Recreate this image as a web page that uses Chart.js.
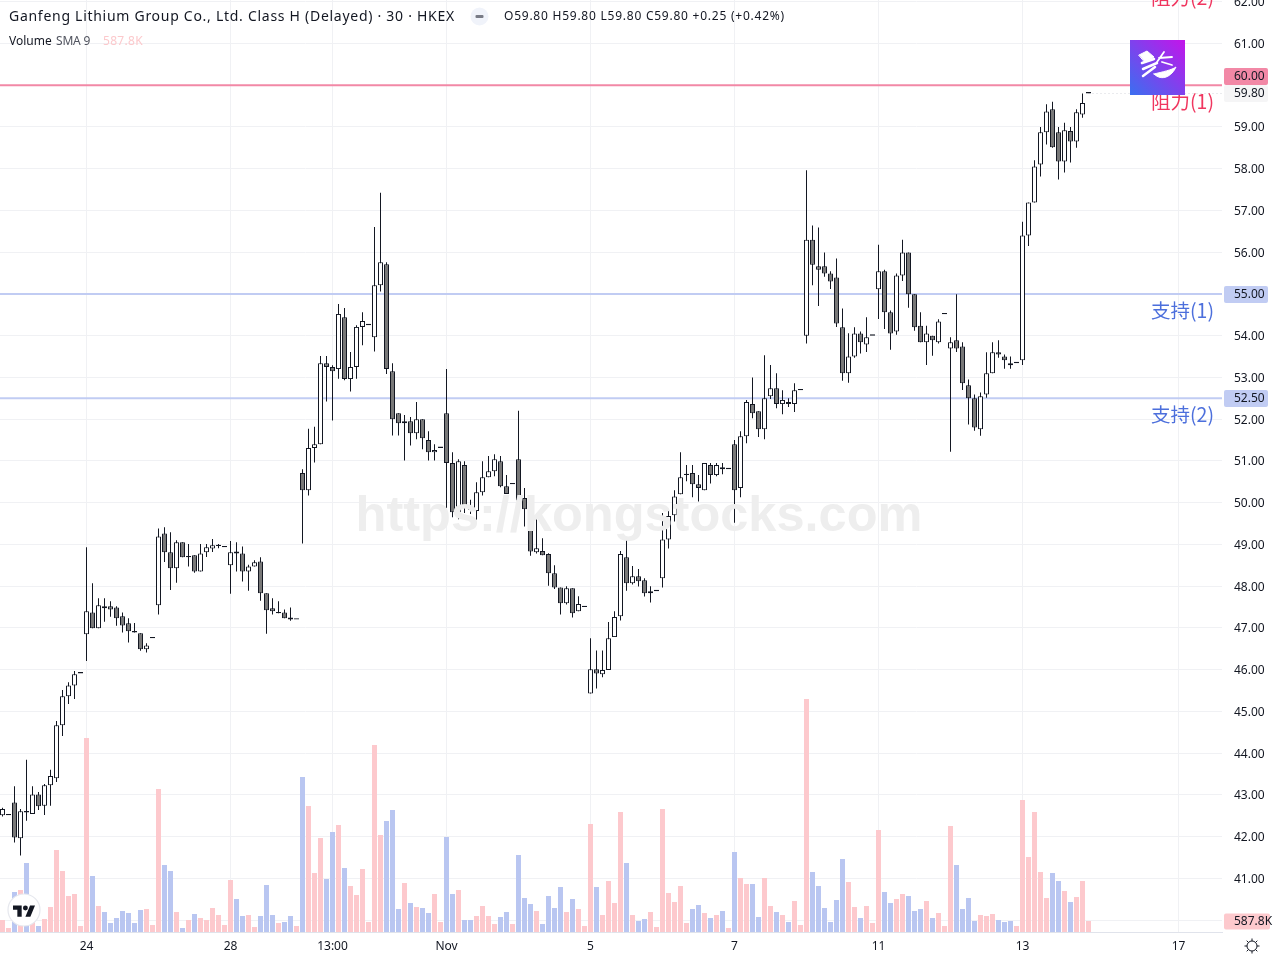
<!DOCTYPE html>
<html>
<head>
<meta charset="utf-8">
<title>Ganfeng Lithium</title>
<script src="https://cdn.jsdelivr.net/npm/chart.js@4"></script>
<style>
    body { margin: 0; background: #fff; overflow: hidden; }
    #wrap { position: relative; width: 1280px; height: 960px; font-family: "Noto Sans", sans-serif; color: #131722; }
    #wrap div, #wrap svg { position: absolute; white-space: nowrap; }
    #title { left: 9px; top: 6px; font-size: 14px; line-height: 20px; letter-spacing: 0.72px; }
    #ohlc { left: 504px; top: 7px; font-size: 12px; line-height: 18px; letter-spacing: 0.76px; }
    #vol { left: 9px; top: 32px; font-size: 12px; line-height: 18px; }
    #volSma { left: 56px; top: 32px; font-size: 12px; line-height: 18px; color: #50535e; letter-spacing: -0.2px; }
    #volVal { left: 103px; top: 32px; font-size: 12px; line-height: 18px; color: #fcc9cc; letter-spacing: 0.3px; }
    #mark { left: 0; width: 1278px; text-align: center; top: 484px; font: bold 50.5px/60px "Liberation Sans"; color: #eeeeee; }
    #badge { left: 1130px; top: 40px; width: 55px; height: 55px; background: linear-gradient(45deg, #3a6ff0, #c414ea); }
</style>
</head>
<body>
<div id="wrap">
    <canvas id="kline" width="1280" height="960"></canvas>
    <div id="mark">https://kongstocks.com</div>
    <div id="title">Ganfeng Lithium Group Co., Ltd. Class H (Delayed) · 30 · HKEX</div>
    <svg style="left:470px;top:7px" width="19" height="19"><circle cx="9.5" cy="9.5" r="9" fill="#f0f3fa"/><rect x="5.5" y="8" width="8" height="3" rx="1" fill="#787b86"/></svg>
    <div id="ohlc">O59.80 H59.80 L59.80 C59.80 +0.25 (+0.42%)</div>
    <div id="vol">Volume</div>
    <div id="volSma">SMA 9</div>
    <div id="volVal">587.8K</div>
    <div id="badge"></div>
    <svg style="left:1130px;top:40px" width="55" height="55" fill="none" stroke="#fff" stroke-linecap="round">
        <path d="M9 15 L17 11 L24 17 L15 22 Z" fill="#fff" stroke-width="1"/>
        <path d="M12 23 L24 19 M13 29 L27 23 M13 36 L25 27" stroke-width="2.5"/>
        <path d="M27 22 L34 12 M29 18 L42 17 M32 22 L42 25" stroke-width="1.8"/>
        <path d="M24 34 C32 42 42 36 46 27 C42 30 32 32 24 34 Z" fill="#fff" stroke-width="1"/>
    </svg>
    <svg style="left:7px;top:893px" width="34" height="34"><circle cx="17" cy="17" r="16" fill="#fff" stroke="#e6e8ee" stroke-width="1.2"/><g transform="translate(6,10) scale(0.62)" fill="#131722"><path d="M14 22H7V11H0V4h14v18zM28 22h-8l7.5-18h8L28 22z"/><circle cx="20" cy="8" r="4"/></g></svg>
    <svg style="left:1243px;top:937px" width="18" height="18" fill="none" stroke="#131722" stroke-width="1"><circle cx="9" cy="9" r="5"/><path d="M9 1.5v2.5M9 14v2.5M1.5 9h2.5M14 9h2.5M3.7 3.7l1.8 1.8M12.5 12.5l1.8 1.8M3.7 14.3l1.8-1.8M12.5 5.5l1.8-1.8"/></svg>
</div>

<script>
var opens = [
    42.51, 42.51, 42.82, 41.96, 42.61, 42.54, 43.01, 42.74, 43.23, 43.40,
    44.67, 45.36, 45.62, 45.91, 46.85, 47.37, 46.99, 47.52, 47.52, 47.49,
    47.28, 47.11, 46.92, 46.87, 46.49, 46.75, 47.54, 49.26, 48.81, 48.43,
    49.05, 48.69, 48.74, 48.35, 48.81, 48.90, 48.96, 48.93, 48.50, 48.83,
    48.78, 48.35, 48.47, 48.59, 47.83, 47.47, 47.35, 47.37, 47.25, 47.20,
    50.71, 50.30, 51.31, 51.40, 53.34, 53.25, 53.20, 54.44, 52.96, 53.25,
    54.21, 54.25, 53.96, 55.21, 55.71, 53.15, 52.14, 51.90, 51.95, 51.66,
    52.00, 51.50, 51.21, 51.31, 52.14, 50.95, 49.77, 50.90, 49.85, 49.80,
    50.25, 50.61, 50.75, 50.99, 50.39, 50.44, 51.04, 50.11, 49.50, 48.81,
    48.84, 48.77, 48.31, 47.97, 47.59, 47.95, 47.40, 47.50, 45.43, 46.01,
    45.89, 45.99, 46.78, 47.28, 48.69, 48.07, 48.24, 48.14, 47.83, 47.88,
    48.19, 49.12, 49.70, 50.20, 50.66, 50.71, 50.44, 50.30, 50.90, 50.66,
    50.85, 50.80, 51.40, 50.35, 51.59, 52.36, 52.19, 51.76, 52.55, 52.74,
    52.36, 52.41, 52.36, 52.69, 54.00, 56.30, 55.66, 55.66, 55.49, 55.39,
    54.20, 53.10, 53.50, 54.05, 53.79, 54.00, 55.11, 55.54, 54.56, 54.10,
    55.44, 55.99, 54.99, 54.24, 53.84, 54.00, 53.84, 54.51, 53.69, 53.89,
    53.74, 52.81, 52.50, 51.76, 52.59, 53.10, 53.60, 53.50, 53.34, 53.34,
    53.41, 56.40, 57.19, 58.10, 58.87, 59.42, 58.87, 58.17, 58.90, 58.65, 59.30, 59.80
];
var highs = [
    42.69, 42.51, 43.21, 42.66, 43.84, 43.21, 43.07, 43.26, 43.60, 44.77,
    45.51, 45.70, 45.97, 45.91, 48.93, 48.07, 47.71, 47.71, 47.64, 47.52,
    47.37, 47.23, 47.12, 46.87, 46.63, 46.75, 49.38, 49.41, 49.29, 49.10,
    49.05, 49.01, 48.74, 49.01, 49.01, 49.13, 49.01, 48.93, 49.08, 49.05,
    48.95, 48.51, 48.62, 48.69, 47.83, 47.71, 47.64, 47.44, 47.49, 47.20,
    50.80, 51.77, 51.82, 53.51, 53.51, 53.29, 54.76, 54.66, 53.61, 54.25,
    54.56, 54.25, 56.60, 57.42, 55.76, 53.34, 52.14, 52.10, 52.05, 52.41,
    52.00, 51.71, 51.40, 51.31, 53.20, 51.21, 51.04, 50.99, 50.07, 50.49,
    50.99, 51.12, 51.16, 51.12, 50.66, 50.44, 52.20, 50.35, 49.55, 49.60,
    49.15, 48.79, 48.50, 47.97, 48.00, 47.95, 47.76, 47.50, 46.75, 46.46,
    46.46, 47.14, 47.40, 48.84, 49.10, 48.48, 48.41, 48.19, 48.00, 47.88,
    49.75, 49.80, 50.30, 51.21, 50.90, 50.90, 50.66, 50.95, 50.95, 50.95,
    50.95, 50.80, 51.50, 51.71, 52.46, 53.00, 52.19, 53.53, 53.30, 53.10,
    52.69, 52.50, 52.86, 52.69, 57.96, 56.64, 56.59, 55.99, 55.54, 55.85,
    54.65, 54.06, 54.20, 54.10, 54.44, 54.00, 56.18, 55.58, 54.60, 55.49,
    56.30, 55.99, 54.99, 54.56, 54.24, 54.00, 54.39, 54.51, 53.96, 54.99,
    53.84, 52.95, 52.59, 52.64, 53.60, 53.84, 53.89, 53.55, 53.50, 53.34,
    56.73, 57.19, 58.20, 59.00, 59.54, 59.60, 59.00, 59.10, 59.00, 59.42, 59.80, 59.80
];
var lows = [
    42.48, 42.51, 41.86, 41.55, 42.38, 42.54, 42.64, 42.52, 42.74, 43.31,
    44.41, 45.18, 45.30, 45.91, 46.21, 46.99, 46.99, 47.15, 47.27, 47.05,
    46.89, 46.65, 46.89, 46.45, 46.41, 46.75, 47.32, 48.58, 47.91, 48.08,
    48.69, 48.47, 48.32, 48.35, 48.70, 48.82, 48.91, 48.93, 47.82, 48.35,
    48.11, 47.89, 48.47, 47.65, 46.86, 47.32, 47.35, 47.23, 47.17, 47.20,
    49.02, 50.17, 50.96, 51.40, 52.42, 51.97, 52.97, 52.93, 52.66, 52.97,
    53.77, 54.25, 53.62, 55.06, 53.08, 51.61, 51.61, 51.01, 51.37, 51.52,
    51.28, 51.01, 51.01, 51.31, 49.87, 49.65, 49.60, 49.75, 49.73, 49.59,
    50.17, 50.61, 50.63, 50.37, 50.21, 50.44, 50.05, 49.43, 48.73, 48.78,
    48.74, 48.01, 47.93, 47.32, 47.56, 47.25, 47.40, 47.50, 45.43, 45.55,
    45.82, 45.99, 46.78, 47.18, 47.89, 48.04, 47.99, 47.75, 47.61, 47.88,
    47.97, 48.90, 49.55, 50.20, 50.51, 50.13, 50.03, 50.30, 50.46, 50.63,
    50.68, 50.80, 49.52, 50.13, 51.42, 52.02, 51.57, 51.52, 52.48, 52.26,
    52.12, 52.29, 52.17, 52.69, 53.81, 55.21, 54.71, 55.41, 55.12, 54.21,
    52.92, 52.87, 53.47, 53.57, 53.61, 54.00, 54.40, 54.16, 53.66, 54.02,
    55.31, 54.67, 54.12, 53.84, 53.30, 53.52, 53.81, 54.51, 51.22, 53.61,
    52.70, 51.87, 51.72, 51.60, 52.51, 53.10, 53.47, 53.21, 53.21, 53.34,
    53.30, 56.15, 57.19, 57.81, 58.58, 58.50, 57.74, 57.91, 58.15, 58.50, 59.22, 59.80
];
var closes = [
    42.66, 42.51, 41.98, 42.61, 42.58, 43.01, 42.73, 43.23, 43.45, 44.67,
    45.36, 45.62, 45.89, 45.91, 47.40, 46.99, 47.54, 47.47, 47.44, 47.23,
    47.06, 46.92, 46.89, 46.49, 46.58, 46.75, 49.19, 48.81, 48.43, 49.05,
    48.69, 48.69, 48.35, 48.78, 48.93, 48.98, 48.96, 48.93, 48.81, 48.78,
    48.35, 48.47, 48.57, 47.83, 47.42, 47.40, 47.35, 47.23, 47.20, 47.20,
    50.30, 51.31, 51.40, 53.34, 53.25, 53.15, 54.52, 52.96, 53.25, 54.21,
    54.35, 54.25, 55.21, 55.76, 53.20, 52.00, 51.90, 51.95, 51.66, 52.00,
    51.54, 51.21, 51.26, 51.31, 50.95, 49.77, 50.99, 49.87, 49.83, 50.25,
    50.61, 50.75, 51.04, 50.39, 50.21, 50.44, 50.05, 49.84, 48.83, 48.91,
    48.74, 48.31, 47.97, 47.59, 47.95, 47.35, 47.57, 47.50, 46.01, 45.91,
    45.99, 46.75, 47.26, 48.77, 48.07, 48.24, 48.12, 47.83, 47.88, 47.88,
    49.12, 49.68, 50.15, 50.61, 50.66, 50.44, 50.35, 50.95, 50.66, 50.90,
    50.80, 50.80, 50.30, 51.59, 52.41, 52.14, 51.76, 52.50, 52.74, 52.36,
    52.46, 52.36, 52.69, 52.69, 56.30, 55.70, 55.58, 55.49, 55.30, 54.29,
    53.10, 53.50, 54.05, 53.84, 53.96, 54.00, 55.54, 54.56, 54.05, 55.44,
    55.99, 54.99, 54.20, 53.84, 54.05, 53.89, 54.34, 54.51, 53.84, 53.69,
    52.86, 52.50, 51.80, 52.55, 53.10, 53.60, 53.55, 53.41, 53.29, 53.34,
    56.40, 57.19, 58.05, 58.87, 59.37, 58.51, 58.17, 58.92, 58.65, 59.35, 59.57, 59.80
];
// volume in thousands of shares
var volumes = [
    641, 214, 2136, 2243, 3685, 908, 320, 694, 1335, 4379,
    3257, 1922, 2029, 320, 10360, 2990, 1388, 1068, 481, 748,
    1121, 1015, 481, 1175, 1228, 374, 7636, 3578, 3257, 1068,
    214, 641, 961, 748, 641, 1282, 908, 374, 2777, 1762,
    854, 908, 267, 854, 2510, 908, 481, 534, 854, 320,
    8277, 6728, 3151, 5020, 2830, 5340, 5714, 3418, 2456, 1976,
    3364, 534, 9986, 5180, 5927, 6515, 1228, 2617, 1549, 1335,
    1282, 1015, 2029, 534, 5073, 2029, 2243, 641, 641, 854,
    1388, 854, 427, 801, 1068, 427, 4112, 1816, 1495, 1121,
    427, 1922, 1282, 2403, 1068, 1762, 1228, 320, 5767, 2403,
    908, 2723, 1549, 6408, 3685, 908, 587, 694, 1068, 267,
    6568, 2083, 1602, 2456, 481, 1228, 1442, 1015, 748, 908,
    1121, 214, 4272, 2884, 2563, 2563, 801, 2884, 1388, 1068,
    908, 534, 1655, 374, 12442, 3204, 2456, 1282, 534, 1709,
    3898, 2670, 1335, 748, 1388, 481, 5447, 2136, 1549, 1762,
    2029, 1922, 1121, 1228, 1655, 748, 1015, 320, 5660, 3578,
    1228, 1816, 587, 908, 854, 961, 641, 534, 587, 320,
    7049, 4005, 6408, 3204, 1816, 3151, 2723, 2189, 1602, 1869, 2723, 587.8
];

var timeTickIndex = [14, 38, 55, 74, 98, 122, 146, 170, 196];
var timeTickLabels = ['24', '28', '13:00', 'Nov', '5', '7', '11', '13', '17'];
var priceTicks = [40, 41, 42, 43, 44, 45, 46, 47, 48, 49, 50, 51, 52, 53, 54, 55, 56, 57, 58, 59, 60, 61, 62];
var resistanceLevels = [60, 62.5];
var resistanceLabels = ['阻力(1)', '阻力(2)'];
var supportLevels = [55, 52.5];
var supportLabels = ['支持(1)', '支持(2)'];
var lastPrice = 59.80;
var lastVolumeLabel = '587.8K';

var UP_VOL = '#fdc9cd';
var DOWN_VOL = '#b9c6f1';
var RES_COLOR = '#f0365f';
var SUP_COLOR = '#4c6fdc';

var xMin = -2.5 / 6, xMax = 1219.5 / 6;

function points(ys) {
    return ys.map(function (v, i) { return { x: i, y: v }; });
}
function pairs(a, b) {
    return a.map(function (v, i) { return { x: i, y: [v, b[i]] }; });
}
function levelLine(level, color) {
    return {
        type: 'line', data: [{ x: xMin, y: level }, { x: xMax, y: level }],
        borderColor: color, borderWidth: 2, pointRadius: 0, yAxisID: 'y', order: 5
    };
}
function noPadding(s) {
    s.paddingLeft = s.paddingRight = s.paddingTop = s.paddingBottom = 0;
}

var datasets = [{
    label: 'Volume', type: 'bar', yAxisID: 'v', order: 6, grouped: false,
    data: points(volumes), barThickness: 5, inflateAmount: 0,
    backgroundColor: closes.map(function (c, i) { return c >= opens[i] ? UP_VOL : DOWN_VOL; })
}, {
    label: 'Wick', type: 'bar', yAxisID: 'y', order: 2, grouped: false,
    data: pairs(lows, highs), barThickness: 1, inflateAmount: 0, backgroundColor: '#131722'
}, {
    label: 'Body', type: 'bar', yAxisID: 'y', order: 1, grouped: false,
    data: pairs(opens, closes), barThickness: 5, inflateAmount: 0, minBarLength: 1.4,
    borderWidth: 1, borderSkipped: false, borderColor: '#131722',
    backgroundColor: closes.map(function (c, i) { return c >= opens[i] ? '#ffffff' : '#787878'; })
}];
resistanceLevels.forEach(function (l) { datasets.push(levelLine(l, '#f288a6')); });
supportLevels.forEach(function (l) { datasets.push(levelLine(l, '#c1ccf3')); });
datasets.push({
    type: 'line', data: [{ x: 181, y: lastPrice }, { x: xMax, y: lastPrice }],
    borderColor: '#d5d7dd', borderWidth: 1, borderDash: [1, 3], pointRadius: 0, yAxisID: 'y', order: 4
});

// price badges on the axis and the level captions
var overlay = {
    id: 'overlay',
    afterDraw: function (chart) {
        var c = chart.ctx, y = chart.scales.y, v = chart.scales.v;
        function tag(text, top, h, w, bg) {
            c.fillStyle = bg;
            c.beginPath();
            c.roundRect(1224, top, w, h, 2);
            c.fill();
            c.fillStyle = '#131722';
            c.font = '12px "Noto Sans"';
            c.textAlign = 'left';
            c.textBaseline = 'middle';
            c.fillText(text, 1234, top + h / 2 + 0.5);
        }
        function caption(text, level, color) {
            c.fillStyle = color;
            c.font = '19.5px "Noto Sans CJK SC"';
            c.textAlign = 'left';
            c.textBaseline = 'middle';
            c.fillText(text, 1151, y.getPixelForValue(level) + 16.5);
        }
        c.save();
        tag(resistanceLevels[0].toFixed(2), 68, 17, 44, '#f288a6');
        tag(lastPrice.toFixed(2), 85, 17, 44, '#f5f5f6');
        supportLevels.forEach(function (l) {
            tag(l.toFixed(2), Math.round(y.getPixelForValue(l)) - 8, 17, 44, '#c1ccf3');
        });
        tag(lastVolumeLabel, Math.round(v.getPixelForValue(volumes[volumes.length - 1])) - 7.5, 16, 46, '#fdc9cd');
        resistanceLevels.forEach(function (l, i) { caption(resistanceLabels[i], l, RES_COLOR); });
        supportLevels.forEach(function (l, i) { caption(supportLabels[i], l, SUP_COLOR); });
        c.restore();
    }
};

var kline = new Chart(document.getElementById('kline').getContext('2d'), {
    data: { datasets: datasets },
    plugins: [overlay],
    options: {
        responsive: false,
        animation: false,
        devicePixelRatio: 1,
        layout: { padding: 0 },
        plugins: { legend: { display: false }, tooltip: { enabled: false } },
        scales: {
            x: {
                type: 'linear', min: xMin, max: xMax, offset: false,
                afterBuildTicks: function (s) {
                    s.ticks = timeTickIndex.map(function (v) { return { value: v }; });
                },
                afterFit: function (s) { s.height = 28; noPadding(s); },
                grid: { color: '#f0f1f4', drawTicks: false, offset: false },
                border: { color: '#e0e3eb' },
                ticks: {
                    autoSkip: false, maxRotation: 0, padding: 7,
                    color: '#131722', font: { family: 'Noto Sans', size: 12 },
                    callback: function (v) { return timeTickLabels[timeTickIndex.indexOf(v)]; }
                }
            },
            y: {
                position: 'right', min: 61 - 888.6 / 41.75, max: 61 + 43.4 / 41.75,
                afterBuildTicks: function (s) {
                    s.ticks = priceTicks.map(function (v) { return { value: v }; });
                },
                afterFit: function (s) { s.width = 58; noPadding(s); },
                grid: { color: '#f0f1f4', drawTicks: false },
                border: { display: false },
                ticks: {
                    padding: 12, autoSkip: false, color: '#131722', labelOffset: 1,
                    font: { family: 'Noto Sans', size: 12 },
                    callback: function (v) { return v.toFixed(2); }
                }
            },
            v: { display: false, min: 0, max: 932 * 53.4 }
        }
    }
});
</script>
</body>
</html>
